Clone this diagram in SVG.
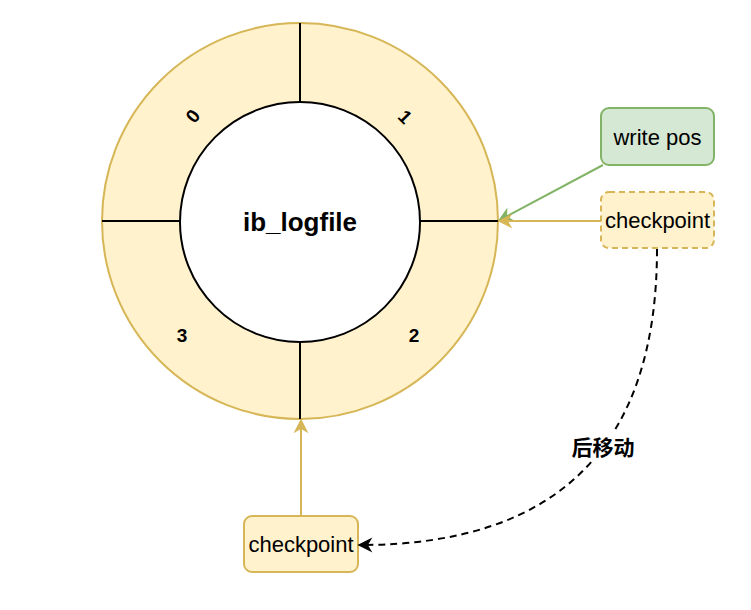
<svg xmlns="http://www.w3.org/2000/svg" width="751" height="610" viewBox="0 0 751 610">
<style>
text{font-family:"Liberation Sans",Arial,sans-serif;fill:#000}
.lbl{font-size:22px;text-anchor:middle;dominant-baseline:central}
.num{font-size:19px;font-weight:bold;text-anchor:middle;dominant-baseline:central}
.div{stroke:#000;stroke-width:2}
</style>
<defs>
<marker id="ag" viewBox="0 0 10 10" refX="9" refY="5" markerWidth="13" markerHeight="12" orient="auto" markerUnits="userSpaceOnUse" style="overflow:visible">
<path d="M0,0 L10,5 L0,10 L3,5 Z" fill="#82b366" stroke="#82b366"/>
</marker>
<marker id="ay" viewBox="0 0 10 10" refX="9" refY="5" markerWidth="13" markerHeight="12" orient="auto" markerUnits="userSpaceOnUse" style="overflow:visible">
<path d="M0,0 L10,5 L0,10 L3,5 Z" fill="#d6b656" stroke="#d6b656"/>
</marker>
<marker id="ak" viewBox="0 0 10 10" refX="9" refY="5" markerWidth="13" markerHeight="12" orient="auto" markerUnits="userSpaceOnUse" style="overflow:visible">
<path d="M0,0 L10,5 L0,10 L3,5 Z" fill="#000" stroke="#000"/>
</marker>
</defs>
<rect width="751" height="610" fill="#fff"/>
<g id="ring">
<circle cx="300" cy="221" r="198" fill="#fff2cc" stroke="#d6b656" stroke-width="2"/>
<line class="div" x1="300" y1="23" x2="300" y2="101"/>
<line class="div" x1="300" y1="341" x2="300" y2="419"/>
<line class="div" x1="102" y1="221" x2="180" y2="221"/>
<line class="div" x1="420" y1="221" x2="498" y2="221"/>
<circle cx="300" cy="222" r="120" fill="#fff" stroke="#000" stroke-width="2"/>
<text x="300" y="222" font-size="26" font-weight="bold" text-anchor="middle" dominant-baseline="central">ib_logfile</text>
<text class="num" transform="translate(193,116) rotate(-50)">0</text>
<text class="num" transform="translate(405,117) rotate(45)">1</text>
<text class="num" x="414" y="335">2</text>
<text class="num" x="182" y="335">3</text>
</g>
<g id="writepos">
<rect x="601" y="108" width="113" height="57" rx="8" fill="#d5e8d4" stroke="#82b366" stroke-width="2"/>
<text class="lbl" x="657.5" y="137">write pos</text>
</g>
<g id="checkpoint1">
<rect x="601" y="192" width="113" height="56" rx="8" fill="#fff2cc" stroke="#d6b656" stroke-width="2" stroke-dasharray="6 4"/>
<text class="lbl" x="657.5" y="220">checkpoint</text>
</g>
<g id="checkpoint2">
<rect x="244" y="516" width="114" height="56" rx="8" fill="#fff2cc" stroke="#d6b656" stroke-width="2"/>
<text class="lbl" x="301" y="544">checkpoint</text>
</g>
<g id="connectors" fill="none" stroke-width="2">
<line x1="603" y1="165" x2="500" y2="220" stroke="#82b366" marker-end="url(#ag)"/>
<line x1="601" y1="221" x2="500" y2="221" stroke="#d6b656" marker-end="url(#ay)"/>
<line x1="301" y1="516" x2="301" y2="421" stroke="#d6b656" marker-end="url(#ay)"/>
<path d="M657,249 Q657,545 360,545" stroke="#000" stroke-dasharray="7 5" marker-end="url(#ak)"/>
<rect x="566" y="433" width="74" height="28" fill="#fff" stroke="none"/>
<text x="603" y="447" font-size="21" font-weight="bold" text-anchor="middle" dominant-baseline="central" style="font-family:'Liberation Sans','Noto Sans CJK SC',sans-serif">后移动</text>
</g>
</svg>
